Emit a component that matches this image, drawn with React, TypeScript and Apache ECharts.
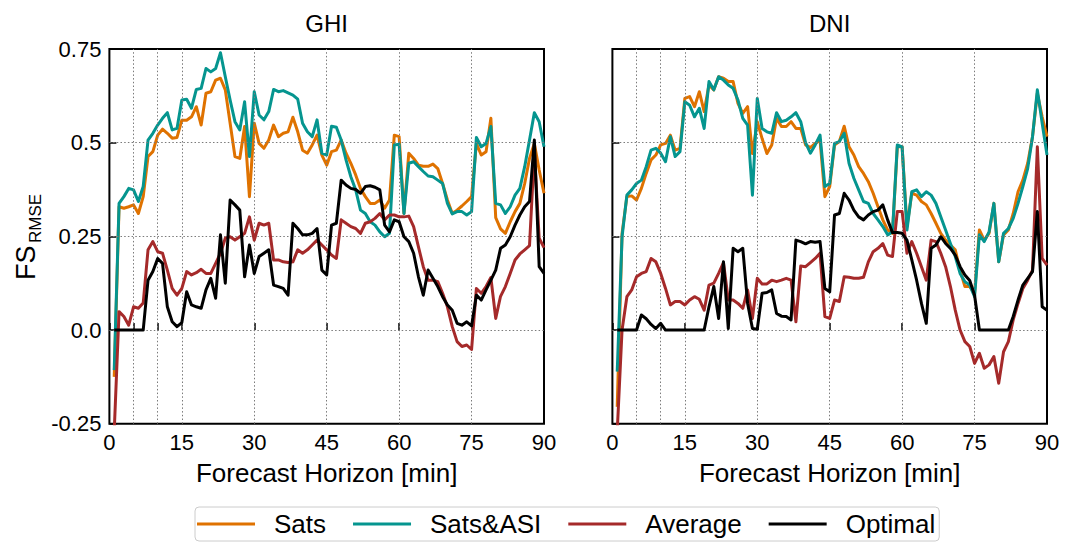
import React, { useEffect, useRef } from "react";
import * as echarts from "echarts";

// Forecast horizon in minutes (x positions of the samples)
const minutes: number[] = Array.from({ length: 90 }, (_, i) => i + 1);

const xTickValues = [0, 5, 10, 15, 30, 45, 60, 75, 90];
const xGridValues = [5, 10, 15, 30, 45, 60, 75];
const yGridValues = [0, 0.25, 0.5];
const yTickLabels = ["-0.25", "0.0", "0.25", "0.5", "0.75"];
const seriesNames = ["Sats", "Sats&ASI", "Average", "Optimal"];
const panelTitles = ["GHI", "DNI"];

// ---------------- GHI ----------------
const ghiSats = [
  -0.125, 0.329, 0.325, 0.329, 0.334, 0.311, 0.356, 0.463, 0.476, 0.52,
  0.536, 0.525, 0.512, 0.514, 0.56, 0.56, 0.569, 0.596, 0.547, 0.632,
  0.636, 0.667, 0.672, 0.641, 0.552, 0.463, 0.458, 0.543, 0.356, 0.552,
  0.498, 0.485, 0.507, 0.547, 0.516, 0.525, 0.529, 0.568, 0.529, 0.48,
  0.472, 0.494, 0.52, 0.467, 0.44, 0.476, 0.48, 0.507, 0.472, 0.445,
  0.414, 0.378, 0.356, 0.338, 0.338, 0.347, 0.325, 0.347, 0.52, 0.516,
  0.311, 0.472, 0.458, 0.44, 0.437, 0.437, 0.443, 0.431, 0.391, 0.347,
  0.311, 0.32, 0.331, 0.343, 0.356, 0.498, 0.467, 0.476, 0.565, 0.3,
  0.27, 0.258, 0.289, 0.316, 0.338, 0.391, 0.458, 0.498, 0.427, 0.365,
];
const ghiSatsAsi = [
  -0.107, 0.338, 0.356, 0.378, 0.374, 0.343, 0.383, 0.507, 0.525, 0.547,
  0.565, 0.58, 0.534, 0.538, 0.614, 0.616, 0.592, 0.642, 0.645, 0.698,
  0.689, 0.698, 0.74, 0.676, 0.614, 0.556, 0.534, 0.609, 0.463, 0.636,
  0.574, 0.561, 0.583, 0.642, 0.636, 0.639, 0.633, 0.627, 0.616, 0.552,
  0.529, 0.516, 0.561, 0.472, 0.467, 0.544, 0.541, 0.507, 0.454, 0.409,
  0.374, 0.32, 0.311, 0.289, 0.28, 0.262, 0.249, 0.258, 0.494, 0.496,
  0.311, 0.445, 0.449, 0.436, 0.423, 0.411, 0.409, 0.4, 0.391, 0.338,
  0.31, 0.316, 0.316, 0.307, 0.316, 0.514, 0.489, 0.498, 0.543, 0.338,
  0.334, 0.311, 0.329, 0.36, 0.378, 0.436, 0.507, 0.58, 0.556, 0.489,
];
const ghiAverage = [
  -0.27, 0.049, 0.036, 0.013, 0.062, 0.058, 0.072, 0.214, 0.236, 0.209,
  0.205, 0.16, 0.111, 0.093, 0.111, 0.156, 0.147, 0.153, 0.162, 0.151,
  0.151, 0.178, 0.205, 0.245, 0.249, 0.24, 0.249, 0.258, 0.302, 0.24,
  0.285, 0.28, 0.285, 0.187, 0.187, 0.182, 0.18, 0.182, 0.214, 0.205,
  0.214, 0.227, 0.24, 0.227, 0.214, 0.2, 0.191, 0.294, 0.285, 0.276,
  0.271, 0.258, 0.285, 0.289, 0.298, 0.311, 0.294, 0.307, 0.307, 0.302,
  0.302, 0.304, 0.276, 0.222, 0.169, 0.133, 0.133, 0.129, 0.098, 0.062,
  0.009, -0.031, -0.044, -0.04, -0.052, 0.111, 0.098, 0.116, 0.14, 0.031,
  0.09, 0.116, 0.151, 0.187, 0.203, 0.214, 0.225, 0.475, 0.245, 0.22,
];
const ghiOptimal = [
  0, 0, 0, 0, 0, 0, 0, 0.133, 0.156, 0.191,
  0.178, 0.062, 0.022, 0.009, 0.02, 0.102, 0.067, 0.062, 0.058, 0.107,
  0.138, 0.085, 0.254, 0.125, 0.347, 0.334, 0.32, 0.142, 0.227, 0.151,
  0.196, 0.205, 0.214, 0.12, 0.116, 0.111, 0.093, 0.285, 0.271, 0.254,
  0.254, 0.258, 0.271, 0.16, 0.147, 0.28, 0.285, 0.4, 0.387, 0.378,
  0.375, 0.365, 0.383, 0.385, 0.381, 0.374, 0.28, 0.262, 0.294, 0.289,
  0.249, 0.236, 0.205, 0.142, 0.093, 0.16, 0.138, 0.116, 0.089, 0.067,
  0.053, 0.018, 0.013, 0.022, 0.011, 0.093, 0.08, 0.107, 0.133, 0.16,
  0.218, 0.227, 0.249, 0.28, 0.307, 0.329, 0.343, 0.507, 0.169, 0.151,
];

// ---------------- DNI ----------------
const dniSats = [
  -0.205, 0.258, 0.356, 0.358, 0.347, 0.378, 0.418, 0.454, 0.467, 0.494,
  0.498, 0.52, 0.48, 0.485, 0.618, 0.623, 0.596, 0.636, 0.583, 0.654,
  0.641, 0.676, 0.672, 0.663, 0.663, 0.605, 0.578, 0.596, 0.471, 0.556,
  0.511, 0.471, 0.494, 0.565, 0.543, 0.543, 0.556, 0.538, 0.538, 0.494,
  0.487, 0.498, 0.507, 0.356, 0.383, 0.494, 0.503, 0.544, 0.489, 0.467,
  0.436, 0.418, 0.396, 0.365, 0.329, 0.294, 0.267, 0.258, 0.489, 0.489,
  0.276, 0.365, 0.36, 0.343, 0.334, 0.311, 0.285, 0.258, 0.24, 0.227,
  0.214, 0.16, 0.116, 0.116, 0.098, 0.267, 0.24, 0.258, 0.338, 0.182,
  0.254, 0.267, 0.311, 0.369, 0.4, 0.445, 0.516, 0.632, 0.569, 0.516,
];
const dniSatsAsi = [
  -0.111, 0.249, 0.36, 0.374, 0.391, 0.4, 0.436, 0.48, 0.485, 0.472,
  0.449, 0.516, 0.463, 0.476, 0.609, 0.6, 0.569, 0.592, 0.538, 0.663,
  0.641, 0.676, 0.667, 0.654, 0.645, 0.614, 0.565, 0.547, 0.36, 0.618,
  0.538, 0.529, 0.525, 0.58, 0.556, 0.56, 0.569, 0.58, 0.556, 0.5,
  0.472, 0.494, 0.52, 0.383, 0.391, 0.498, 0.503, 0.525, 0.445, 0.405,
  0.374, 0.343, 0.338, 0.311, 0.294, 0.276, 0.254, 0.262, 0.494, 0.489,
  0.267, 0.369, 0.374, 0.356, 0.369, 0.36, 0.338, 0.302, 0.267, 0.231,
  0.196, 0.151, 0.129, 0.12, 0.089, 0.254, 0.236, 0.262, 0.338, 0.182,
  0.258, 0.271, 0.298, 0.338, 0.383, 0.431, 0.516, 0.641, 0.552, 0.467,
];
const dniAverage = [
  -0.27, 0.0, 0.089, 0.107, 0.142, 0.151, 0.156, 0.191, 0.182, 0.151,
  0.111, 0.067, 0.076, 0.076, 0.067, 0.08, 0.089, 0.082, 0.053, 0.12,
  0.125, 0.151, 0.18, 0.08, 0.08, 0.071, 0.058, 0.107, 0.031, 0.138,
  0.123, 0.123, 0.133, 0.129, 0.133, 0.138, 0.133, 0.022, 0.171, 0.169,
  0.18, 0.191, 0.205, 0.036, 0.031, 0.08, 0.076, 0.142, 0.141, 0.138,
  0.138, 0.141, 0.182, 0.209, 0.218, 0.231, 0.2, 0.196, 0.316, 0.316,
  0.205, 0.236, 0.205, 0.169, 0.133, 0.24, 0.236, 0.205, 0.169, 0.116,
  0.053, 0.0, -0.031, -0.044, -0.089, -0.062, -0.102, -0.093, -0.071, -0.142,
  -0.058, -0.031, 0.027, 0.071, 0.111, 0.133, 0.16, 0.489, 0.191, 0.173,
];
const dniOptimal = [
  0, 0, 0, 0, 0, 0.04, 0.03, 0.015, 0.004, 0.018,
  0, 0, 0, 0, 0, 0, 0, 0, 0, 0.062,
  0.116, 0.031, 0.182, 0.004, 0.218, 0.209, 0.218, 0.071, 0.004, 0.002,
  0.098, 0.1, 0.107, 0.044, 0.037, 0.036, 0.027, 0.24, 0.236, 0.23,
  0.236, 0.234, 0.236, 0.111, 0.102, 0.307, 0.311, 0.365, 0.347, 0.32,
  0.302, 0.294, 0.307, 0.316, 0.32, 0.334, 0.294, 0.26, 0.26, 0.258,
  0.24, 0.187, 0.133, 0.071, 0.018, 0.218, 0.227, 0.249, 0.231, 0.218,
  0.2, 0.169, 0.147, 0.132, 0.093, 0, 0, 0, 0, 0,
  0, 0, 0.036, 0.08, 0.12, 0.138, 0.156, 0.316, 0.062, 0.053,
];

const panelData = [
  [ghiSats, ghiSatsAsi, ghiAverage, ghiOptimal],
  [dniSats, dniSatsAsi, dniAverage, dniOptimal],
];

const COLORS = ["#df7200", "#05958f", "#a52a2a", "#000000"];
const FONT = "'Liberation Sans', Arial, Helvetica, sans-serif";

const GRID_LEFTS = [109.4, 612.4];
const GRID_TOP = 49;
const GRID_W = 434.6;
const GRID_H = 374.7;

function buildOption() {
  const grids = GRID_LEFTS.map((left) => ({
    left,
    top: GRID_TOP,
    width: GRID_W,
    height: GRID_H,
    show: true,
    borderColor: "#000",
    borderWidth: 2,
    backgroundColor: "transparent",
  }));

  const xAxes = [0, 1].map((i) => ({
    type: "value",
    gridIndex: i,
    min: 0,
    max: 90,
    interval: 15,
    axisLine: { show: false },
    axisTick: {
      show: true,
      inside: true,
      length: 7,
      customValues: xTickValues,
      lineStyle: { color: "#000", width: 1.5 },
    },
    axisLabel: {
      color: "#000",
      fontSize: 22,
      fontFamily: FONT,
      margin: 8,
    },
    splitLine: { show: false },
    name: "Forecast Horizon [min]",
    nameLocation: "middle",
    nameGap: 36,
    nameTextStyle: { color: "#000", fontSize: 26, fontFamily: FONT },
  }));

  const yAxes = [0, 1].map((i) => ({
    type: "value",
    gridIndex: i,
    min: -0.25,
    max: 0.75,
    interval: 0.25,
    axisLine: { show: false },
    axisTick: {
      show: true,
      inside: true,
      length: 7,
      lineStyle: { color: "#000", width: 1.5 },
    },
    axisLabel: {
      show: i === 0,
      color: "#000",
      fontSize: 22,
      fontFamily: FONT,
      margin: 8,
      formatter: (v: number) => yTickLabels[Math.round((v + 0.25) / 0.25)] ?? "",
    },
    splitLine: { show: false },
  }));

  const series: any[] = [];
  [0, 1].forEach((p) => {
    series.push({
      name: "_grid" + p,
      type: "line",
      xAxisIndex: p,
      yAxisIndex: p,
      data: [],
      silent: true,
      z: 1,
      markLine: {
        silent: true,
        symbol: ["none", "none"],
        label: { show: false },
        animation: false,
        lineStyle: { color: "#7a7a7a", width: 1, type: [1.5, 2.2] },
        emphasis: { disabled: true },
        data: [
          ...xGridValues.map((v) => ({ xAxis: v })),
          ...yGridValues.map((v) => ({ yAxis: v })),
        ],
      },
    });
    panelData[p].forEach((arr, k) => {
      series.push({
        name: seriesNames[k],
        type: "line",
        xAxisIndex: p,
        yAxisIndex: p,
        data: arr.map((v, j) => [minutes[j], v]),
        symbol: "none",
        z: 3 + k,
        color: COLORS[k],
        lineStyle: { color: COLORS[k], width: 3, join: "round" },
        emphasis: { disabled: true },
        clip: true,
      });
    });
  });

  const graphic: any[] = [
    ...panelTitles.map((t, i) => ({
      type: "text",
      x: GRID_LEFTS[i] + GRID_W / 2,
      y: 23,
      style: {
        text: t,
        fill: "#000",
        font: `24px ${FONT}`,
        align: "center",
        verticalAlign: "middle",
        textAlign: "center",
        textVerticalAlign: "middle",
      },
    })),
    {
      type: "text",
      x: 26,
      y: 280,
      rotation: Math.PI / 2,
      style: {
        text: "FS",
        fill: "#000",
        font: `27px ${FONT}`,
        align: "left",
        verticalAlign: "middle",
        textAlign: "left",
        textVerticalAlign: "middle",
      },
    },
    {
      type: "text",
      x: 35,
      y: 243,
      rotation: Math.PI / 2,
      style: {
        text: "RMSE",
        fill: "#000",
        font: `17px ${FONT}`,
        align: "left",
        verticalAlign: "middle",
        textAlign: "left",
        textVerticalAlign: "middle",
      },
    },
  ];

  return {
    animation: false,
    backgroundColor: "#fff",
    textStyle: { fontFamily: FONT },
    grid: grids,
    xAxis: xAxes,
    yAxis: yAxes,
    series,
    graphic,
    legend: {
      data: seriesNames,
      left: 195,
      top: 507,
      orient: "horizontal",
      icon: "rect",
      itemWidth: 58,
      itemHeight: 3,
      itemGap: 27,
      selectedMode: false,
      textStyle: {
        color: "#000",
        fontSize: 26,
        fontFamily: FONT,
        padding: [0, 0, 0, 14],
      },
      borderColor: "#cccccc",
      borderWidth: 1,
      borderRadius: 4,
      padding: [4, 4, 4, 2],
    },
  };
}

export default function App() {
  const ref = useRef<HTMLDivElement>(null);
  useEffect(() => {
    if (!ref.current) return;
    const chart = echarts.init(ref.current, undefined, { renderer: "svg" });
    chart.setOption(buildOption() as any);
    return () => chart.dispose();
  }, []);
  return (
    <div
      ref={ref}
      style={{ position: "absolute", left: 0, top: 0, width: 1073, height: 547, background: "#fff" }}
    />
  );
}
